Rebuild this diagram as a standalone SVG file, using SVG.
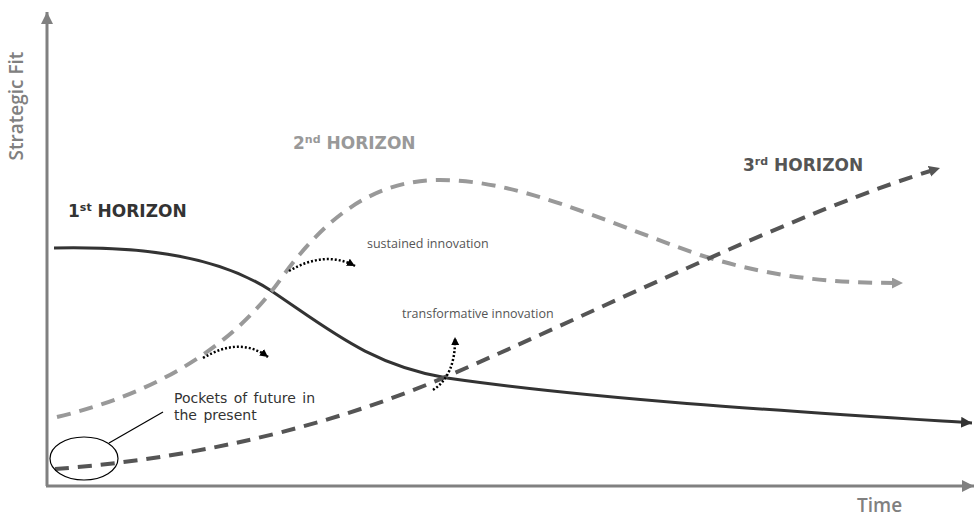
<svg xmlns="http://www.w3.org/2000/svg" width="977" height="518" viewBox="0 0 977 518">
<style>
.axis{stroke:#808080;stroke-width:3;fill:none}
.axlbl{font-family:"Open Sans","DejaVu Sans",sans-serif;font-weight:600;font-size:19px;fill:#808080}
.hz{font-family:"DejaVu Sans","Liberation Sans",sans-serif;font-weight:bold;font-size:17px}
.sup{font-size:11px}
.note{font-family:"Open Sans","DejaVu Sans",sans-serif;font-size:12.5px;fill:#555}
.pock{font-family:"DejaVu Sans","Liberation Sans",sans-serif;font-size:14px;fill:#333;word-spacing:2px}
.dot{stroke:#000;stroke-width:2.5;fill:none;stroke-dasharray:2 2}
</style>
<defs>
<marker id="axArr" markerUnits="userSpaceOnUse" markerWidth="14" markerHeight="14" refX="12" refY="6" orient="auto"><path d="M0,0 L12,6 L0,12 Z" fill="#808080"/></marker>
<marker id="a1" markerUnits="userSpaceOnUse" markerWidth="14" markerHeight="14" refX="11" refY="5.5" orient="auto"><path d="M0,0 L11,5.5 L0,11 Z" fill="#333"/></marker>
<marker id="a2" markerUnits="userSpaceOnUse" markerWidth="14" markerHeight="14" refX="11" refY="5.5" orient="auto"><path d="M0,0 L11,5.5 L0,11 Z" fill="#999"/></marker>
<marker id="a3" markerUnits="userSpaceOnUse" markerWidth="14" markerHeight="14" refX="11" refY="5.5" orient="auto"><path d="M0,0 L11,5.5 L0,11 Z" fill="#555"/></marker>
<marker id="ad" markerUnits="userSpaceOnUse" markerWidth="10" markerHeight="10" refX="8" refY="4" orient="auto"><path d="M0,0 L8,4 L0,8 Z" fill="#000"/></marker>
</defs>
<g id="axes">
<path class="axis" d="M47,486 L47,12" marker-end="url(#axArr)"/>
<path class="axis" d="M46,486 L974,486" marker-end="url(#axArr)"/>
<text class="axlbl" transform="translate(23,106) rotate(-90)" text-anchor="middle">Strategic Fit</text>
<text class="axlbl" x="857" y="512">Time</text>
</g>
<g id="connectors">
<path id="horizon1-curve" d="M54,248 C150,246 220,258 270,290 C330,330 370,365 447,378 C600,400 800,412 972,423" stroke="#333" stroke-width="3" fill="none" marker-end="url(#a1)"/>
<path id="horizon2-curve" d="M57,417 C150,395 230,350 280,280 C330,210 380,180 440,180 C520,180 600,220 700,255 C780,280 840,283 903,283" stroke="#999" stroke-width="4" stroke-dasharray="14 9" fill="none" marker-end="url(#a2)"/>
<path id="horizon3-curve" d="M55,469 C150,462 300,440 450,375 C600,310 800,210 940,168" stroke="#555" stroke-width="4" stroke-dasharray="14 9" fill="none" marker-end="url(#a3)"/>
<path class="dot" d="M289,271 Q325,250 355,266" marker-end="url(#ad)"/>
<path class="dot" d="M203,358 Q240,336 268,357" marker-end="url(#ad)"/>
<path class="dot" d="M433,390 Q456,375 455,337" marker-end="url(#ad)"/>
<path d="M109,443 L163,412" stroke="#000" stroke-width="1.2" fill="none"/>
</g>
<g id="horizon1"><text class="hz" x="68" y="217" fill="#333">1<tspan class="sup" dy="-6">st</tspan><tspan dy="6"> HORIZON</tspan></text></g>
<g id="horizon2"><text class="hz" x="293" y="149" fill="#999">2<tspan class="sup" dy="-6">nd</tspan><tspan dy="6"> HORIZON</tspan></text></g>
<g id="horizon3"><text class="hz" x="743" y="171" fill="#555">3<tspan class="sup" dy="-6">rd</tspan><tspan dy="6"> HORIZON</tspan></text></g>
<g id="sustained"><text class="note" x="367" y="248">sustained innovation</text></g>
<g id="transformative"><text class="note" x="402" y="318">transformative innovation</text></g>
<g id="pockets">
<ellipse cx="84" cy="458.5" rx="34" ry="21.5" stroke="#000" stroke-width="1.2" fill="none"/>
<text class="pock" x="174" y="403">Pockets of future in</text>
<text class="pock" x="174" y="420">the present</text>
</g>
</svg>
